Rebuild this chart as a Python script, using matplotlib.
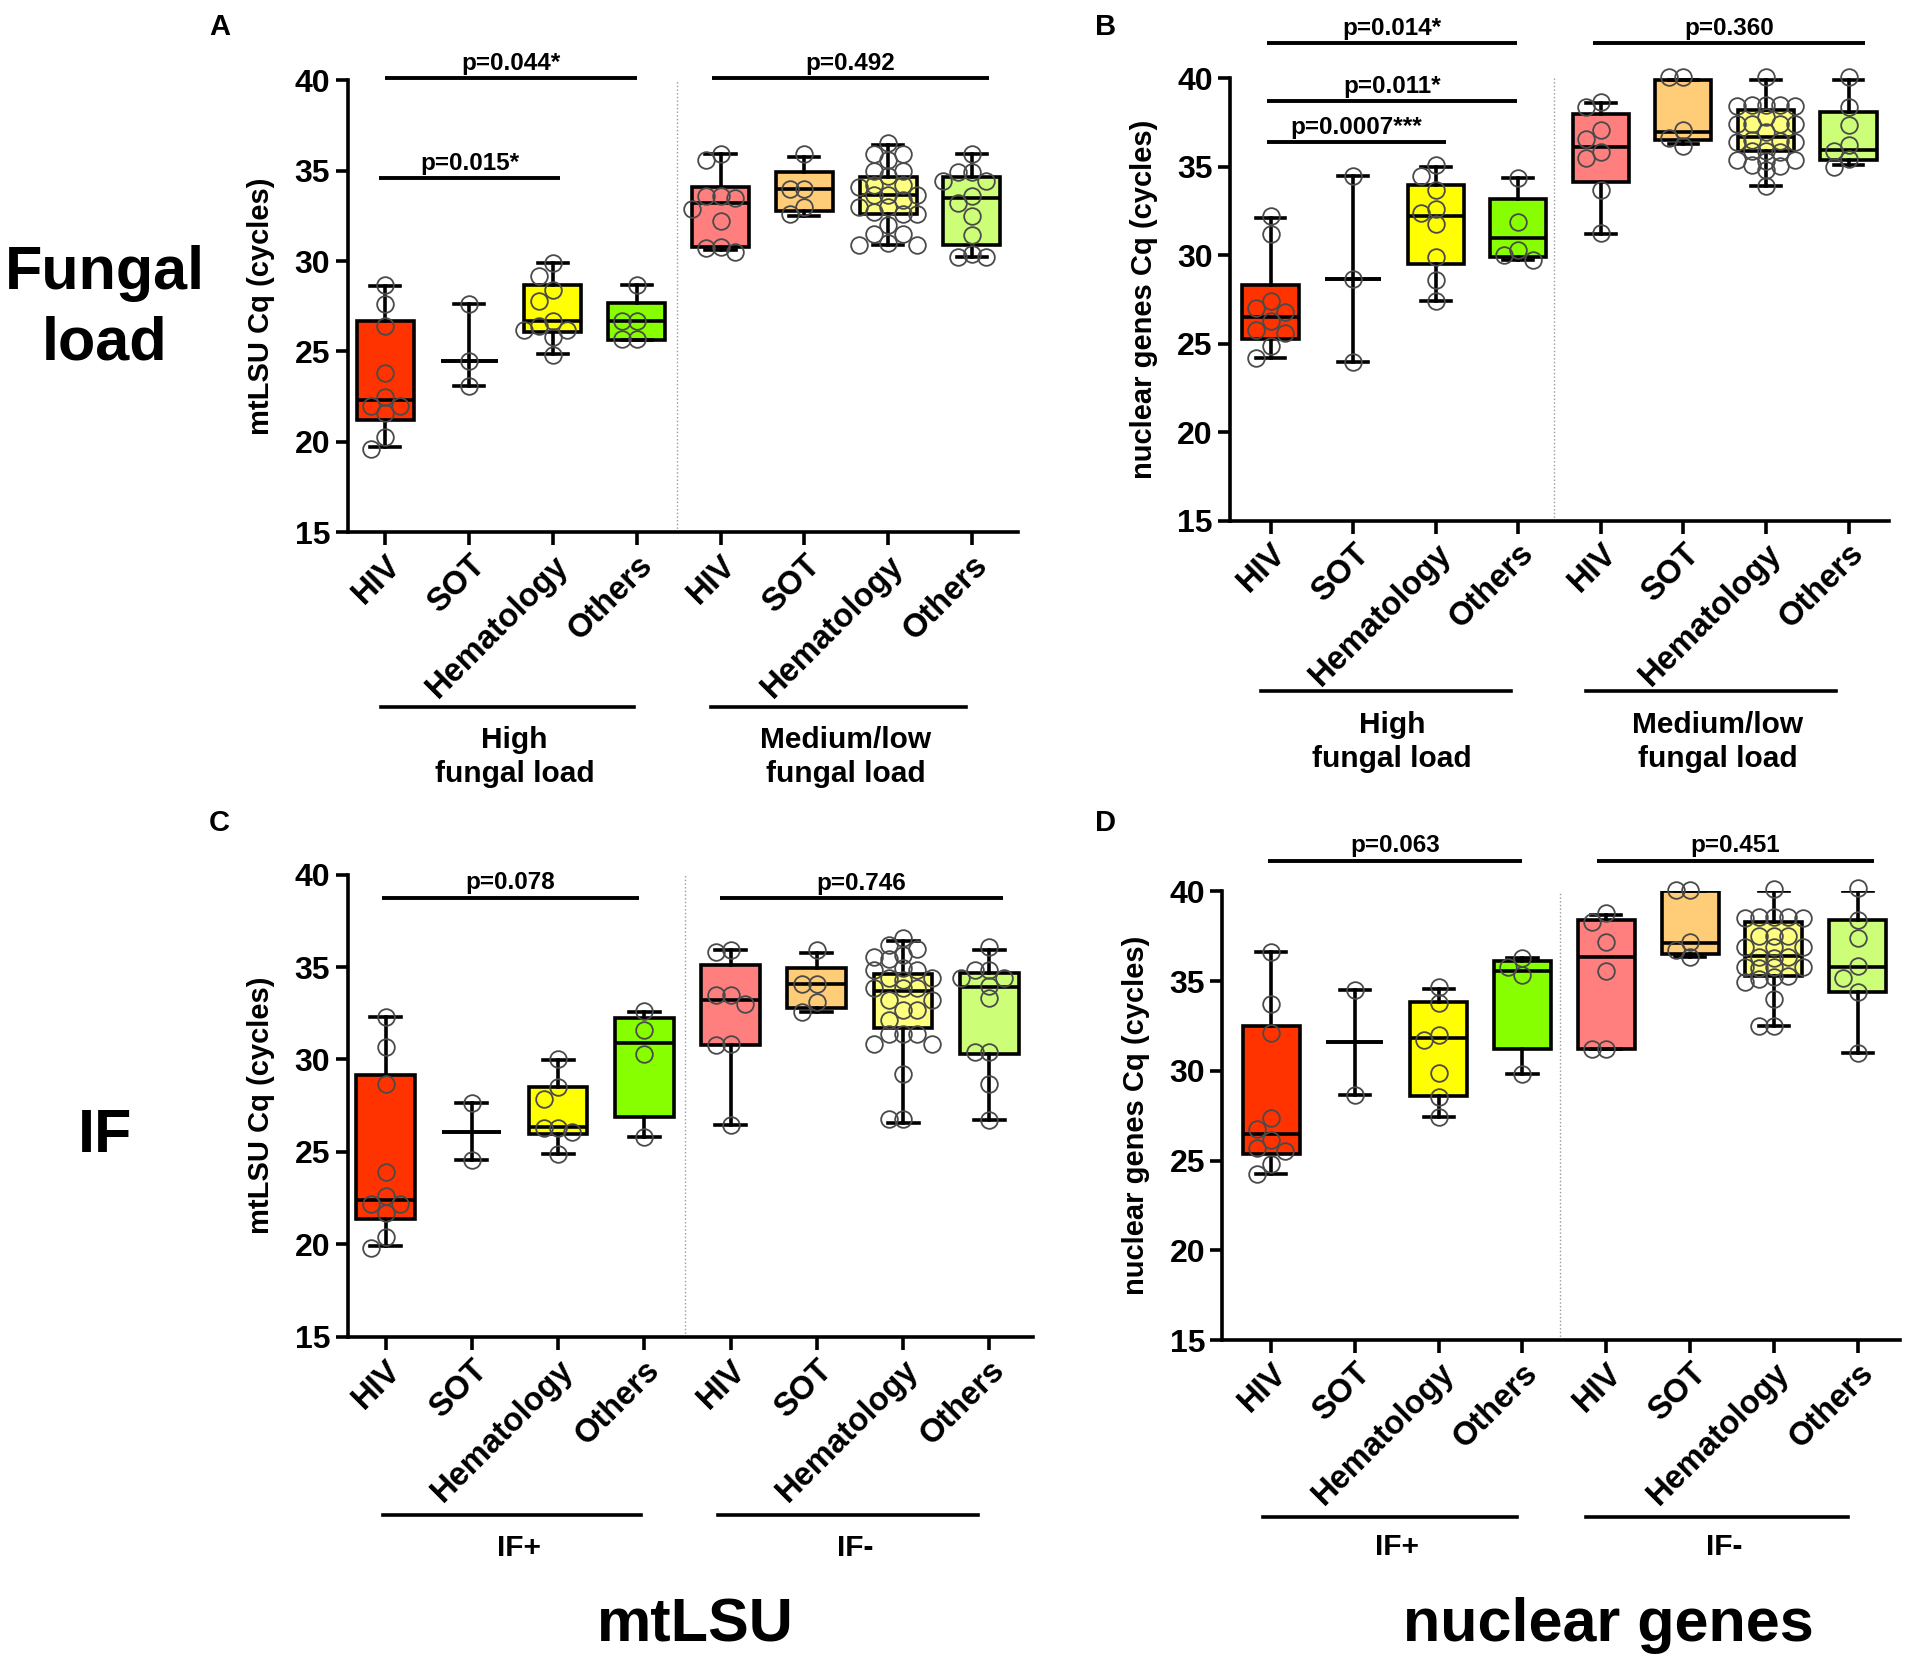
import numpy as np
import matplotlib
matplotlib.use("Agg")
import matplotlib.pyplot as plt

plt.rcParams['font.family'] = ['Liberation Sans', 'DejaVu Sans']
plt.rcParams['font.weight'] = 'bold'

groups = ['HIV', 'SOT', 'Hematology', 'Others', 'HIV', 'SOT', 'Hematology', 'Others']
box_colors = ['#FF3300', '#FFCC77', '#FFFF00', '#88FF00',
              '#FF7F7F', '#FFCC77', '#FFFF7F', '#CCFF77']

# ---- panel A: mtLSU, fungal load ----
a_lo = [19.7, 23.1, 24.85, 25.65, 30.6, 32.5, 30.86, 30.2]
a_q1 = [21.2, 24.5, 26.05, 25.65, 30.75, 32.75, 32.6, 30.9]
a_med = [22.3, 24.5, 26.67, 26.7, 33.2, 34.0, 33.66, 33.5]
a_q3 = [26.7, 24.5, 28.65, 27.7, 34.07, 34.9, 34.64, 34.64]
a_hi = [28.6, 27.6, 29.9, 28.67, 35.9, 35.75, 36.4, 35.93]
a_pts = [
    [28.7, 27.6, 26.4, 23.8, 22.5, 22.0, 22.0, 21.6, 20.3, 19.6],
    [27.6, 24.5, 23.1],
    [29.9, 29.2, 28.4, 27.8, 26.7, 26.4, 26.2, 26.2, 25.8, 24.8],
    [28.7, 26.7, 26.7, 25.7, 25.7],
    [35.9, 35.6, 33.6, 33.5, 33.6, 32.9, 32.2, 30.8, 30.5, 30.7],
    [35.9, 34.0, 34.0, 33.0, 32.6],
    [36.5, 35.9, 35.9, 35.6, 34.95, 34.95, 34.7, 34.2, 34.2, 34.1, 33.66, 33.66,
     33.66, 33.4, 33.0, 33.0, 32.7, 32.6, 32.6, 32.0, 31.5, 31.5, 31.0, 30.9, 30.86],
    [35.9, 34.9, 34.9, 34.4, 34.4, 33.6, 33.2, 32.5, 31.45, 30.4, 30.2, 30.25],
]
a_pvals = ['p=0.044*', 'p=0.015*', 'p=0.492']
a_pspan = [(1, 4), (0.93, 3.08), (4.9, 8.2)]
a_plevel = [40.1, 34.57, 40.1]

# ---- panel B: nuclear genes, fungal load ----
b_lo = [24.2, 24.0, 27.4, 29.75, 31.2, 36.27, 33.93, 35.09]
b_q1 = [25.3, 28.65, 29.5, 29.9, 34.15, 36.5, 35.9, 35.37]
b_med = [26.5, 28.65, 32.2, 31.0, 36.12, 37.0, 36.69, 35.94]
b_q3 = [28.35, 28.65, 34.0, 33.2, 37.97, 39.94, 38.23, 38.1]
b_hi = [32.1, 34.5, 35.0, 34.4, 38.6, 39.94, 39.94, 39.94]
b_pts = [
    [32.2, 31.2, 27.4, 27.0, 26.8, 25.8, 25.6, 26.3, 24.9, 24.2],
    [34.5, 28.65, 24.0],
    [35.1, 34.5, 33.7, 32.6, 32.4, 31.8, 29.9, 28.6, 27.4],
    [34.4, 31.9, 30.3, 30.0, 29.75],
    [38.66, 38.4, 37.1, 36.6, 35.84, 35.5, 33.68, 31.24],
    [40.07, 40.07, 37.1, 36.65, 36.2],
    [40.07, 38.5, 38.5, 38.45, 38.5, 38.45, 37.8, 37.45, 37.4, 37.45, 37.4, 36.97,
     36.5, 36.4, 36.4, 36.45, 35.9, 35.85, 35.9, 35.4, 35.37, 35.35, 35.1, 35.05,
     34.8, 33.93],
    [40.07, 38.38, 37.35, 36.22, 35.9, 35.47, 35.0],
]
b_pvals = ['p=0.014*', 'p=0.011*', 'p=0.0007***', 'p=0.360']
b_pspan = [(0.96, 3.98), (0.96, 3.98), (0.96, 3.12), (4.9, 8.2)]
b_plevel = [42.0, 38.7, 36.4, 42.0]

# ---- panel C: mtLSU, IF ----
c_lo = [19.9, 24.55, 24.9, 25.8, 26.43, 32.57, 26.58, 26.74]
c_q1 = [21.35, 26.1, 25.95, 26.9, 30.77, 32.79, 31.7, 30.28]
c_med = [22.4, 26.1, 26.36, 30.9, 33.24, 34.07, 33.7, 33.93]
c_q3 = [29.15, 26.1, 28.5, 32.25, 35.1, 34.92, 34.6, 34.7]
c_hi = [32.3, 27.65, 29.96, 32.56, 35.9, 35.77, 36.4, 35.9]
c_pts = [
    [32.3, 30.7, 28.65, 23.9, 22.6, 22.2, 22.2, 21.7, 20.4, 19.8],
    [27.65, 24.55],
    [30.0, 28.5, 27.84, 26.3, 26.3, 26.1, 24.9],
    [32.6, 31.6, 30.3, 25.8],
    [35.9, 35.8, 33.5, 33.5, 33.0, 30.86, 30.77, 26.43],
    [35.9, 34.07, 34.07, 33.1, 32.57],
    [36.55, 36.2, 36.0, 35.55, 35.64, 35.46, 34.83, 34.92, 34.83, 34.38, 34.29,
     34.38, 33.84, 33.84, 33.84, 33.2, 33.2, 32.66, 32.66, 32.16, 31.4, 31.4, 31.4,
     30.86, 30.86, 29.23, 26.8, 26.8],
    [36.06, 34.83, 34.83, 34.4, 34.4, 34.0, 33.3, 30.4, 30.4, 28.7, 26.74],
]
c_pvals = ['p=0.078', 'p=0.746']
c_pspan = [(0.96, 3.94), (4.88, 8.16)]
c_plevel = [38.74, 38.71]

# ---- panel D: nuclear genes, IF ----
d_lo = [24.23, 28.68, 27.45, 29.83, 31.22, 36.35, 32.52, 31.0]
d_q1 = [25.38, 31.63, 28.62, 31.22, 31.22, 36.5, 35.3, 34.41]
d_med = [26.49, 31.63, 31.81, 35.54, 36.32, 37.1, 36.41, 35.76]
d_q3 = [32.48, 31.63, 33.81, 36.1, 38.41, 39.99, 38.26, 38.41]
d_hi = [36.63, 34.52, 34.56, 36.28, 38.67, 39.99, 40.0, 40.0]
d_pts = [
    [36.6, 33.7, 32.1, 27.36, 26.77, 26.16, 25.7, 25.56, 24.82, 24.23],
    [34.52, 28.68],
    [34.65, 33.76, 32.0, 31.74, 29.86, 28.57, 27.45],
    [36.28, 35.76, 35.35, 29.83],
    [38.77, 38.26, 37.15, 35.54, 31.22, 31.22],
    [40.06, 40.06, 37.15, 36.73, 36.32],
    [40.12, 38.54, 38.54, 38.5, 38.54, 38.5, 37.52, 37.5, 37.52, 36.87, 36.9, 36.87,
     36.32, 36.3, 36.32, 35.76, 35.76, 35.74, 35.76, 35.2, 34.95, 35.1, 35.3, 34.0,
     32.52, 32.52],
    [40.2, 38.41, 37.39, 35.82, 35.17, 34.41, 31.0],
]
d_pvals = ['p=0.063', 'p=0.451']
d_pspan = [(0.97, 4.0), (4.89, 8.19)]
d_plevel = [41.7, 41.7]

ylab_mt = 'mtLSU Cq (cycles)'
ylab_nuc = 'nuclear genes Cq (cycles)'
load_labels = ['High\nfungal load', 'Medium/low\nfungal load']
if_labels = ['IF+', 'IF-']


def swarm_offsets(vals, x_ppu, y_ppu, diam=16.0):
    # compact beeswarm in pixel space, kept within the box width
    order = np.argsort(vals)[::-1]
    placed = []
    offs = np.zeros(len(vals))
    step = diam * 0.9
    cands = [0, -1, 1, -2, 2]
    for i in order:
        y = vals[i] * y_ppu
        best, best_d = 0, -1
        for k in cands:
            x = k * step
            dmin = min([np.hypot(x - px, y - py) for px, py in placed] + [1e9])
            if dmin >= diam * 0.8:
                best = k
                break
            if dmin > best_d + 2:
                best, best_d = k, dmin
        placed.append((best * step, y))
        offs[i] = best * step / x_ppu
    return offs


def draw_panel(ax, lo, q1, med, q3, hi, pts, pvals, pspan, plevel,
               xlim, divider, ylabel, glabels, gline, gtext_y, gline_y):
    pos = np.arange(1, 9)
    stats = [dict(whislo=lo[i], q1=q1[i], med=med[i], q3=q3[i], whishi=hi[i])
             for i in range(8)]
    lw = 2.6
    bp = ax.bxp(stats, positions=pos, widths=0.68, capwidths=0.36,
                showfliers=False, patch_artist=True,
                boxprops=dict(linewidth=lw, edgecolor='black'),
                whiskerprops=dict(linewidth=lw, color='black'),
                capprops=dict(linewidth=lw, color='black'),
                medianprops=dict(linewidth=lw, color='black'))
    for patch, c in zip(bp['boxes'], box_colors):
        patch.set_facecolor(c)
    ax.set_xlim(*xlim)
    ax.set_ylim(15, 40)
    fig = ax.figure
    bb = ax.get_position()
    w_px = bb.width * fig.get_figwidth() * fig.dpi
    h_px = bb.height * fig.get_figheight() * fig.dpi
    x_ppu = w_px / (xlim[1] - xlim[0])
    y_ppu = h_px / 25.0
    for i in range(8):
        v = np.array(pts[i])
        off = swarm_offsets(v, x_ppu, y_ppu)
        ax.plot(pos[i] + off, v, 'o', ms=12, mfc='none', mec='#4a4a4a',
                mew=1.3, zorder=5, clip_on=False)
    ax.axvline(divider, color='#999999', lw=1, ls=':', zorder=0)

    ax.spines['top'].set_visible(False)
    ax.spines['right'].set_visible(False)
    ax.spines['left'].set_linewidth(2.6)
    ax.spines['bottom'].set_linewidth(2.6)
    ax.set_yticks([15, 20, 25, 30, 35, 40])
    ax.tick_params(axis='both', width=2.6, length=9, direction='out')
    ax.tick_params(axis='y', labelsize=23)
    ax.set_xticks(pos)
    ax.set_xticklabels(groups, rotation=45, ha='right', rotation_mode='anchor',
                       fontsize=23.5, fontweight='bold')
    for t in ax.get_yticklabels():
        t.set_fontweight('bold')
    ax.set_ylabel(ylabel, fontsize=21, fontweight='bold', labelpad=14)

    for txt, (x1, x2), yv in zip(pvals, pspan, plevel):
        ax.plot([x1, x2], [yv, yv], color='black', lw=2.8, clip_on=False,
                solid_capstyle='butt')
        ax.text((x1 + x2) / 2, yv + 0.2, txt, ha='center', va='bottom',
                fontsize=17.5, fontweight='bold')

    tr = ax.get_xaxis_transform()
    for lab, (x1, x2) in zip(glabels, gline):
        ax.plot([x1, x2], [gline_y, gline_y], color='black', lw=2.6,
                transform=tr, clip_on=False)
        ax.text((x1 + x2) / 2 + 0.08, gtext_y, lab, transform=tr, ha='center',
                va='center', fontsize=21.5, fontweight='bold', linespacing=1.25)


fig = plt.figure(figsize=(19.1, 16.69), dpi=100)
axA = fig.add_axes([0.182, 0.681, 0.351, 0.271])
axB = fig.add_axes([0.644, 0.688, 0.345, 0.265])
axC = fig.add_axes([0.182, 0.199, 0.359, 0.277])
axD = fig.add_axes([0.640, 0.197, 0.355, 0.269])

draw_panel(axA, a_lo, a_q1, a_med, a_q3, a_hi, a_pts, a_pvals, a_pspan, a_plevel,
           (0.55, 8.55), 4.48, ylab_mt, load_labels,
           [(0.95, 3.97), (4.89, 7.93)], -0.497, -0.385)
draw_panel(axB, b_lo, b_q1, b_med, b_q3, b_hi, b_pts, b_pvals, b_pspan, b_plevel,
           (0.51, 8.49), 4.43, ylab_nuc, load_labels,
           [(0.88, 3.91), (4.82, 7.85)], -0.5, -0.386)
draw_panel(axC, c_lo, c_q1, c_med, c_q3, c_hi, c_pts, c_pvals, c_pspan, c_plevel,
           (0.56, 8.51), 4.47, ylab_mt, if_labels,
           [(0.97, 3.96), (4.86, 7.87)], -0.456, -0.385)
draw_panel(axD, d_lo, d_q1, d_med, d_q3, d_hi, d_pts, d_pvals, d_pspan, d_plevel,
           (0.42, 8.51), 4.45, ylab_nuc, if_labels,
           [(0.91, 3.93), (4.76, 7.89)], -0.46, -0.393)

for lab, x, y in [('A', 0.115, 0.984), ('B', 0.579, 0.984),
                  ('C', 0.115, 0.507), ('D', 0.579, 0.507)]:
    fig.text(x, y, lab, fontsize=21, fontweight='bold', ha='center', va='center')

fig.text(0.055, 0.815, 'Fungal\nload', fontsize=44, fontweight='bold',
         ha='center', va='center', linespacing=1.3)
fig.text(0.055, 0.319, 'IF', fontsize=44, fontweight='bold', ha='center', va='center')
fig.text(0.364, 0.026, 'mtLSU', fontsize=44, fontweight='bold', ha='center', va='center')
fig.text(0.842, 0.026, 'nuclear genes', fontsize=44, fontweight='bold',
         ha='center', va='center')

fig.savefig('out.png', dpi=100)
